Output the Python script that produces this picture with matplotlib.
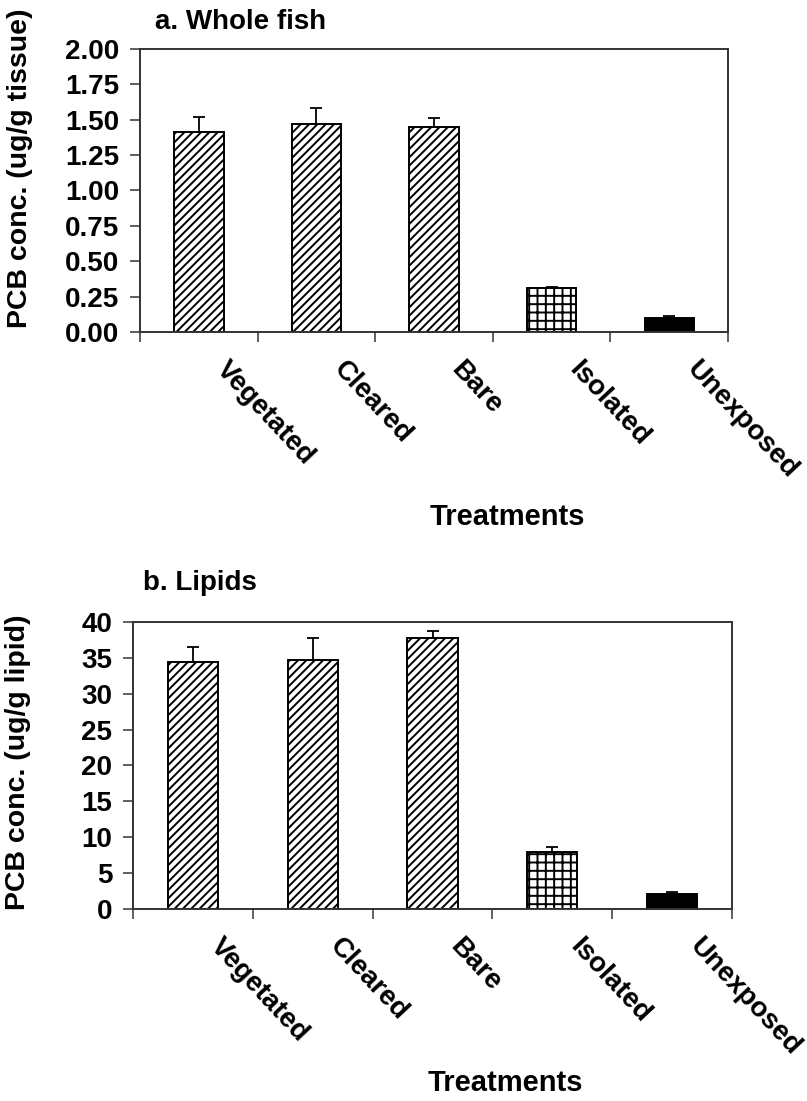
import numpy as np
import matplotlib
matplotlib.use("Agg")
import matplotlib.pyplot as plt
from matplotlib.transforms import blended_transform_factory

plt.rcParams['font.family'] = ['Liberation Sans', 'DejaVu Sans']
plt.rcParams['font.weight'] = 'bold'
plt.rcParams['hatch.linewidth'] = 1.4

treatments = ["Vegetated", "Cleared", "Bare", "Isolated", "Unexposed"]

# a. whole fish (ug/g tissue)
fish_mean = [1.41, 1.47, 1.45, 0.31, 0.10]
fish_err = [0.11, 0.11, 0.06, 0.01, 0.01]

# b. lipids (ug/g lipid)
lipid_mean = [34.4, 34.7, 37.7, 7.9, 2.1]
lipid_err = [2.1, 3.0, 1.0, 0.7, 0.2]

hatches = ["////", "////", "////", "++", ""]
faces = ["white", "white", "white", "white", "black"]

fig = plt.figure(figsize=(8.07, 11.01), dpi=100)
ax1 = fig.add_axes([0.1735, 0.6985, 0.7286, 0.257])
ax2 = fig.add_axes([0.1648, 0.1744, 0.7423, 0.2607])


def draw(ax, means, errs, ymax, ystep, fmt):
    x = np.arange(len(treatments))
    for i in range(len(treatments)):
        ax.bar(x[i], means[i], width=0.42, color=faces[i], edgecolor="black",
               hatch=hatches[i], linewidth=1.4, zorder=2)
        ax.errorbar(x[i], means[i], yerr=[[0], [errs[i]]], fmt="none",
                    ecolor="black", elinewidth=1.3, capsize=4, capthick=1.3,
                    zorder=3)
    ax.set_xlim(-0.5, len(treatments) - 0.5)
    ax.set_ylim(0, ymax)
    ticks = np.arange(0, ymax + ystep / 2, ystep)
    ax.set_yticks(ticks)
    ax.set_yticklabels([fmt.format(t) for t in ticks], fontsize=20,
                       fontweight="bold")
    ax.set_xticks(np.arange(-0.5, len(treatments), 1.0))
    ax.set_xticklabels([])
    ax.tick_params(axis="both", direction="out", length=7, width=1.2,
                   pad=8, color="#444444")
    for s in ax.spines.values():
        s.set_linewidth(1.4)
        s.set_color("#333333")
    tr = blended_transform_factory(ax.transData, ax.transAxes)
    for i, t in enumerate(treatments):
        ax.text(i + 0.1, -0.085, t, transform=tr, rotation=-47,
                ha="left", va="top", fontsize=20, fontweight="bold")


draw(ax1, fish_mean, fish_err, 2.0, 0.25, "{:.2f}")
draw(ax2, lipid_mean, lipid_err, 40, 5, "{:.0f}")

fig.text(155 / 807, 1 - 22 / 1101, "a. Whole fish", fontsize=20,
         fontweight="bold", ha="left", va="center")
fig.text(143 / 807, 1 - 583 / 1101, "b. Lipids", fontsize=20,
         fontweight="bold", ha="left", va="center")
fig.text(20 / 807, 1 - 168 / 1101, "PCB conc. (ug/g tissue)", fontsize=20.5,
         fontweight="bold", rotation=90, ha="center", va="center")
fig.text(18 / 807, 1 - 762 / 1101, "PCB conc. (ug/g lipid)", fontsize=20.5,
         fontweight="bold", rotation=90, ha="center", va="center")
fig.text(507 / 807, 1 - 517 / 1101, "Treatments", fontsize=21,
         fontweight="bold", ha="center", va="center")
fig.text(505 / 807, 1 - 1083 / 1101, "Treatments", fontsize=21,
         fontweight="bold", ha="center", va="center")

fig.savefig("out.png", dpi=100)
